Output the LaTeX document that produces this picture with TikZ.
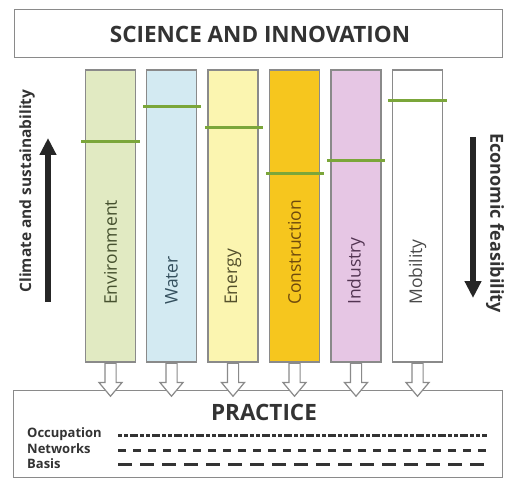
\documentclass[tikz,border=0pt]{standalone}
\usepackage{fontspec}
\setmainfont{Open Sans}
\usetikzlibrary{arrows.meta,shapes.arrows}
\definecolor{framegray}{HTML}{8A8A8A}
\definecolor{headgray}{HTML}{333333}
\definecolor{levelgreen}{HTML}{7BA63A}
\definecolor{envfill}{HTML}{E1EAC2}
\definecolor{waterfill}{HTML}{D3EAF2}
\definecolor{energyfill}{HTML}{FBF5B0}
\definecolor{constrfill}{HTML}{F6C61E}
\definecolor{industryfill}{HTML}{E6C6E4}
\definecolor{envtext}{HTML}{46512F}
\definecolor{watertext}{HTML}{34505E}
\definecolor{energytext}{HTML}{54502C}
\definecolor{constrtext}{HTML}{6E4A0E}
\definecolor{industrytext}{HTML}{523452}
\definecolor{mobtext}{HTML}{4A4A4A}
\begin{document}
\begin{tikzpicture}[x=1pt,y=-1pt,
    every node/.style={align=center},
    frame box/.style={draw=framegray, line width=1pt, inner sep=0pt},
    heading/.style={text=headgray, font=\fontsize{22.5}{22.5}\selectfont\bfseries},
    sector/.style={draw=framegray, line width=1.3pt, minimum width=50pt, minimum height=292pt, inner sep=0pt},
    sector label/.style={rotate=90, anchor=west, inner sep=0pt, font=\fontsize{17.5}{17.5}\selectfont},
    side label/.style={text=headgray, font=\fontsize{15.5}{15.5}\selectfont\bfseries},
    level line/.style={draw=levelgreen, line width=3pt},
    side arrow/.style={draw=black!85, line width=6pt, -{Triangle[length=17pt,width=16pt]}},
    hollow arrow/.style={single arrow, draw=framegray, fill=white, line width=1.2pt, rotate=-90, anchor=tail,
        inner sep=5pt, single arrow head extend=6pt, single arrow tip angle=80, minimum height=33pt},
    legend label/.style={anchor=west, inner sep=0pt, text=headgray, font=\fontsize{13}{13}\selectfont\bfseries},
    legend line/.style={draw=black!80, line width=3pt},
    ]
\useasboundingbox (0,0) rectangle (505,478);
\node[frame box, minimum width=488pt, minimum height=48pt] (science) at (258,34) {};
\node[heading] (sciencetext) at (260,34) {SCIENCE AND INNOVATION};
\node[frame box, minimum width=489pt, minimum height=87pt] (practice) at (257.5,433.5) {};
\node[heading] (practicetext) at (264,412) {PRACTICE};
\node[sector, fill=envfill] (env) at (110.5,216) {};
\node[sector, fill=waterfill] (water) at (171.5,216) {};
\node[sector, fill=energyfill] (energy) at (233,216) {};
\node[sector, fill=constrfill] (constr) at (294.5,216) {};
\node[sector, fill=industryfill] (industry) at (356,216) {};
\node[sector, fill=white] (mobility) at (417.5,216) {};
\draw[level line] (81,142) -- (140,142);
\draw[level line] (143,107) -- (201,107);
\draw[level line] (205,128) -- (263,128);
\draw[level line] (266,174) -- (324,174);
\draw[level line] (327,161) -- (385,161);
\draw[level line] (388,101) -- (447,101);
\node[sector label, text=envtext] (envlabel) at (110.5,305) {Environment};
\node[sector label, text=watertext] (waterlabel) at (171.5,305) {Water};
\node[sector label, text=energytext] (energylabel) at (233,305) {Energy};
\node[sector label, text=constrtext] (constrlabel) at (294.5,305) {Construction};
\node[sector label, text=industrytext] (industrylabel) at (356,305) {Industry};
\node[sector label, text=mobtext] (mobilitylabel) at (417.5,305) {Mobility};
\node[hollow arrow] (envdown) at (env.south) {};
\node[hollow arrow] (waterdown) at (water.south) {};
\node[hollow arrow] (energydown) at (energy.south) {};
\node[hollow arrow] (constrdown) at (constr.south) {};
\node[hollow arrow] (industrydown) at (industry.south) {};
\node[hollow arrow] (mobilitydown) at (mobility.south) {};
\node[side label, rotate=90] (climate) at (27,191) {Climate and sustainability};
\node[side label, rotate=-90, font=\fontsize{18}{18}\selectfont\bfseries] (economic) at (495,223) {Economic feasibility};
\coordinate (climatetail) at (48,302);
\coordinate (climatetip) at (48,138);
\coordinate (economictail) at (473,137);
\coordinate (economictip) at (473,298);
\draw[side arrow] (climatetail) -- (climatetip);
\draw[side arrow] (economictail) -- (economictip);
\node[legend label] (occupation) at (27,434) {Occupation};
\node[legend label] (networks) at (27,449) {Networks};
\node[legend label] (basis) at (27,464) {Basis};
\draw[legend line, dash pattern=on 4pt off 2pt on 4pt off 2pt on 8pt off 2pt] (118,435) -- (487,435);
\draw[legend line, dash pattern=on 8pt off 7pt] (118,450) -- (487,450);
\draw[legend line, dash pattern=on 14pt off 8pt] (118,464) -- (487,464);
\end{tikzpicture}
\end{document}
